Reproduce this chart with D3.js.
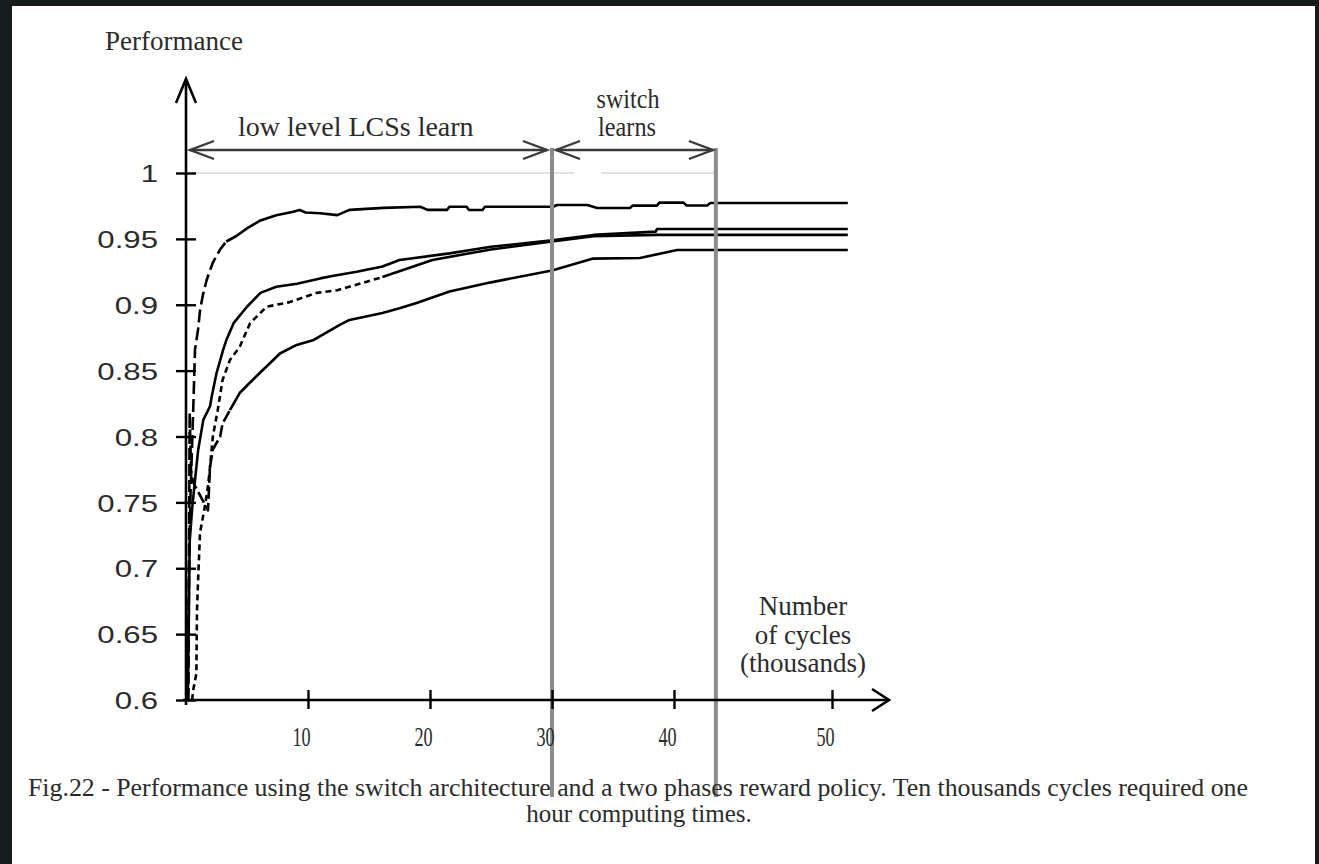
<!DOCTYPE html>
<html><head><meta charset="utf-8">
<script src="https://cdn.jsdelivr.net/npm/d3@7"></script>
<style>
html,body{margin:0;padding:0;background:#161c1b;}
svg{display:block;}
</style></head>
<body>
<svg id="chart" width="1319" height="864"></svg>
<script>
// ---- data ----
const yTicks = [0.6, 0.65, 0.7, 0.75, 0.8, 0.85, 0.9, 0.95, 1];
const yTickLabels = ["0.6", "0.65", "0.7", "0.75", "0.8", "0.85", "0.9", "0.95", "1"];
const xTicks = [10, 20, 30, 40, 50];
const xTickLabels = ["10", "20", "30", "40", "50"];
const phaseBounds = [0, 30, 42.65];           // thousands of cycles
const phaseLabels = ["low level LCSs learn", "switch|learns"];
const yAxisTitle = "Performance";
const xAxisTitle = ["Number", "of cycles", "(thousands)"];
const caption = ["Fig.22 - Performance using the switch architecture and a two phases reward policy. Ten thousands cycles required one",
                 "hour computing times."];

// [thousands of cycles, performance]
const seriesA = [[0.1,0.60],[0.25,0.70],[0.38,0.76],[0.47,0.785],[0.6,0.823],[0.74,0.866],[1.0,0.882],[1.15,0.896],[1.4,0.908],[1.7,0.919],[2.2,0.932],[2.8,0.942],[3.3,0.948],[4.1,0.952],[5.0,0.958],[6.1,0.964],[7.4,0.968],[8.8,0.9706],[9.3,0.972],[9.8,0.970],[11.0,0.9694],[12.4,0.968],[13.4,0.972],[16.2,0.9735],[19.2,0.9744],[19.8,0.972],[21.4,0.972],[21.6,0.9744],[23.0,0.9744],[23.2,0.9719],[24.3,0.9719],[24.5,0.9744],[30.1,0.9744],[30.4,0.9757],[32.9,0.9757],[33.7,0.9734],[36.4,0.9734],[36.6,0.9752],[38.6,0.9752],[38.8,0.9775],[40.6,0.9775],[40.8,0.9753],[42.1,0.9753],[42.3,0.9772],[51,0.9772]];
const seriesB = [[0.15,0.60],[0.3,0.72],[0.5,0.745],[0.74,0.767],[1.0,0.79],[1.42,0.8126],[1.97,0.823],[2.1,0.83],[2.5,0.848],[3.05,0.866],[3.3,0.873],[3.9,0.886],[5.0,0.8985],[6.1,0.909],[7.4,0.9137],[9.1,0.916],[11.0,0.920],[12.1,0.922],[14.0,0.925],[16.1,0.929],[17.5,0.934],[21.6,0.939],[25,0.944],[30,0.949],[33.4,0.953],[38.5,0.9555],[38.6,0.9575],[51,0.9575]];
const seriesC = [[0.5,0.60],[0.6,0.608],[0.85,0.62],[0.9,0.668],[1.0,0.693],[1.15,0.727],[1.55,0.747],[1.8,0.762],[1.97,0.777],[2.2,0.80],[2.6,0.82],[3.0,0.843],[3.6,0.858],[4.4,0.868],[5.25,0.886],[6.6,0.8985],[8.5,0.902],[10.7,0.909],[12.4,0.911],[16.1,0.921],[20.2,0.934],[25,0.942],[30,0.948],[33.4,0.952],[38.6,0.953],[51,0.953]];
const seriesD = [[0.2,0.60],[0.3,0.818],[0.42,0.772],[0.6,0.765],[1.8,0.744],[1.97,0.777],[2.2,0.79],[2.8,0.80],[3.0,0.81],[3.6,0.82],[4.4,0.833],[5.25,0.841],[6.3,0.8505],[7.7,0.863],[9.07,0.8695],[10.4,0.873],[12.6,0.8847],[13.4,0.8885],[16.1,0.8938],[17.5,0.8973],[18.9,0.9013],[21.6,0.91],[25,0.917],[30,0.926],[33.3,0.935],[37.2,0.9355],[40.2,0.9415],[51,0.9415]];

// ---- drawing ----
const svg = d3.select("#chart");
const TXT = "#2b2b2b";
const SERIF = "'Liberation Serif','Times New Roman',serif";
const SANS = "'Liberation Sans',Arial,sans-serif";

svg.append("rect").attr("width", 1319).attr("height", 864).attr("fill", "#161c1b");
svg.append("rect").attr("x", 12).attr("y", 6).attr("width", 1303).attr("height", 858).attr("fill", "#ffffff");

const x = d3.scaleLinear().domain([0, 40, 50]).range([186, 674, 832]);
const y = d3.scaleLinear().domain([0.6, 1]).range([700, 173]);

// thin reference line at 1
const g0 = svg.append("g").attr("stroke", "#c4c4c4").attr("stroke-width", 1.2);
g0.append("line").attr("x1", x(0) + 4).attr("x2", x(phaseBounds[1]) + 22).attr("y1", y(1)).attr("y2", y(1));
g0.append("line").attr("x1", x(phaseBounds[1]) + 49).attr("x2", x(phaseBounds[2])).attr("y1", y(1)).attr("y2", y(1));

// curves
const line = d3.line().x(d => x(d[0])).y(d => y(d[1]));
const styles = [
  {data: seriesA, dash: "13,5", until: 3.3},
  {data: seriesB, dash: null, until: 0},
  {data: seriesC, dash: "6,4", until: 14},
  {data: seriesD, dash: "12,4", until: 3.6}
];
const gc = svg.append("g").attr("fill", "none").attr("stroke", "#000").attr("stroke-width", 2.6)
  .attr("stroke-linejoin", "round");
styles.forEach(s => {
  const a = s.data.filter(d => d[0] <= s.until);
  const b = s.data.filter(d => d[0] >= s.until);
  if (s.dash && a.length > 1) {
    const seg = b.length ? a.concat([b[0]]) : a;
    gc.append("path").attr("d", line(seg)).attr("stroke-dasharray", s.dash);
  }
  gc.append("path").attr("d", line(s.dash ? b : s.data));
});

// phase boundary vertical lines
svg.append("g").attr("stroke", "#8c8c8c").attr("stroke-width", 4)
  .selectAll("line").data(phaseBounds.slice(1)).join("line")
  .attr("x1", d => x(d)).attr("x2", d => x(d)).attr("y1", 148).attr("y2", 797);

// axes
const yAxis = d3.axisLeft(y).tickValues(yTicks).tickSize(20).tickPadding(18)
  .tickFormat((d, i) => yTickLabels[i]);
const gy = svg.append("g").attr("transform", `translate(${x(0) + 10},0)`).call(yAxis);
gy.select(".domain").remove();
gy.selectAll(".tick line").attr("stroke", "#000").attr("stroke-width", 2.4);
gy.selectAll(".tick text").attr("x", null).attr("dy", "0.36em")
  .attr("transform", "translate(-38,0) scale(1.3,1)")
  .attr("font-family", SANS).attr("font-size", 24).attr("fill", TXT);

const xAxis = d3.axisBottom(x).tickValues(xTicks).tickSize(19).tickFormat((d, i) => xTickLabels[i]);
const gx = svg.append("g").attr("transform", `translate(0,${y(0.6) - 10})`).call(xAxis);
gx.select(".domain").remove();
gx.selectAll(".tick line").attr("stroke", "#000").attr("stroke-width", 2.4);
gx.selectAll(".tick text").attr("y", null).attr("dy", null)
  .attr("transform", "translate(-7,56) scale(0.65,1)")
  .attr("font-family", SERIF).attr("font-size", 28).attr("fill", TXT);

// axis lines with open arrow heads
const ga = svg.append("g").attr("fill", "none").attr("stroke", "#000").attr("stroke-width", 2.6)
  .attr("stroke-linejoin", "miter");
ga.append("line").attr("x1", x(0)).attr("x2", x(0)).attr("y1", y(0.6) + 5).attr("y2", 79);
ga.append("path").attr("d", `M${x(0) - 10},103 L${x(0)},79 L${x(0) + 10},103`);
ga.append("line").attr("x1", x(0) - 3).attr("x2", 889).attr("y1", y(0.6)).attr("y2", y(0.6));
ga.append("path").attr("d", `M872,689 L889,${y(0.6)} L872,711`);

// phase arrows
const gp = svg.append("g").attr("fill", "none").attr("stroke", "#3a3a3a").attr("stroke-width", 2.4);
const ay = 150;
function dbl(x1, x2) {
  gp.append("line").attr("x1", x1).attr("x2", x2).attr("y1", ay).attr("y2", ay);
  gp.append("path").attr("d", `M${x1 + 24},${ay - 9} L${x1},${ay} L${x1 + 24},${ay + 9}`);
  gp.append("path").attr("d", `M${x2 - 24},${ay - 9} L${x2},${ay} L${x2 - 24},${ay + 9}`);
}
dbl(x(phaseBounds[0]) + 4, x(phaseBounds[1]) - 5);
dbl(x(phaseBounds[1]) + 4, x(phaseBounds[2]) - 3);

// texts
const t = svg.append("g").attr("font-family", SERIF).attr("fill", TXT);
t.append("text").attr("x", 105).attr("y", 50).attr("font-size", 27).text(yAxisTitle);
t.append("text").attr("x", 238).attr("y", 136).attr("font-size", 28).text(phaseLabels[0]);
const sw = phaseLabels[1].split("|");
t.append("text").attr("x", 628).attr("y", 108).attr("font-size", 27).attr("text-anchor", "middle")
  .attr("textLength", 63).attr("lengthAdjust", "spacingAndGlyphs").text(sw[0]);
t.append("text").attr("x", 627).attr("y", 136).attr("font-size", 27).attr("text-anchor", "middle")
  .attr("textLength", 58).attr("lengthAdjust", "spacingAndGlyphs").text(sw[1]);
xAxisTitle.forEach((s, i) => {
  t.append("text").attr("x", 803).attr("y", 615 + i * 28.5).attr("font-size", 27)
    .attr("text-anchor", "middle").text(s);
});
t.append("text").attr("x", 28).attr("y", 796).attr("font-size", 25)
  .attr("textLength", 1220).attr("lengthAdjust", "spacingAndGlyphs").text(caption[0]);
t.append("text").attr("x", 639).attr("y", 822).attr("font-size", 25).attr("text-anchor", "middle").text(caption[1]);
</script>
</body></html>
